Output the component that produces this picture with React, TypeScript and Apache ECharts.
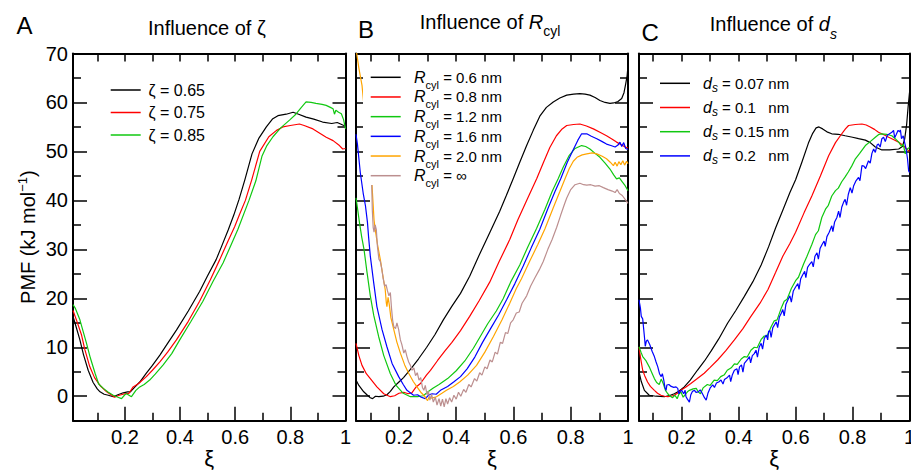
import React, { useEffect, useRef } from "react";
import * as echarts from "echarts";

const FONT = '"Liberation Sans", Arial, Helvetica, sans-serif';

// ---- axis tick values ----
const X_MAJOR = [0.2, 0.4, 0.6, 0.8, 1];
const X_MINOR = [0.1, 0.3, 0.5, 0.7, 0.9];
const X_TOP = [0.1, 0.2, 0.3, 0.4, 0.5, 0.6, 0.7, 0.8, 0.9];
const Y_MAJOR = [0, 10, 20, 30, 40, 50, 60, 70];
const Y_MINOR = [5, 15, 25, 35, 45, 55, 65];
const X_MIN = [0.012, 0.05, 0.05];
const X_MAX = 1;
const Y_MIN = -5;
const Y_MAX = 70;

// ---- legend names ----
const ZETA_NAMES = ["ζ = 0.65", "ζ = 0.75", "ζ = 0.85"];
const RCYL_VALUES = ["0.6 nm", "0.8 nm", "1.2 nm", "1.6 nm", "2.0 nm", "∞"];
const DS_VALUES = ["0.07 nm", "0.1\u00a0\u00a0\u00a0nm", "0.15 nm", "0.2\u00a0\u00a0\u00a0nm"];

// ---- Panel A: influence of zeta ----
const A_ZETA065 = [[0.012,16.3],[0.02,14.8],[0.037,11.5],[0.05,8.5],[0.067,5.3],[0.085,2.8],[0.1,1.5],[0.11,0.9],[0.125,0.4],[0.14,0.2],[0.158,-0.1],[0.175,0.3],[0.194,0.7],[0.21,0.9],[0.22,0.9],[0.235,1.8],[0.254,2.9],[0.278,4.7],[0.3,6.3],[0.327,8.4],[0.355,10.8],[0.387,13.5],[0.43,17.4],[0.471,21.4],[0.5,24.6],[0.531,27.9],[0.55,30.5],[0.575,34.0],[0.595,37.0],[0.614,40.2],[0.635,44.2],[0.661,49.5],[0.685,52.6],[0.713,55.0],[0.735,56.6],[0.755,57.3],[0.785,57.6],[0.81,58.0],[0.83,57.6],[0.857,57.0],[0.885,56.6],[0.917,56.0],[0.95,55.7],[0.97,55.9],[0.99,55.4],[1.0,55.2]];
const A_ZETA075 = [[0.012,17.5],[0.025,15.5],[0.043,12.5],[0.055,9.5],[0.073,6.0],[0.09,3.8],[0.11,2.2],[0.134,0.9],[0.15,0.3],[0.163,-0.2],[0.18,0.2],[0.2,0.5],[0.215,0.6],[0.23,1.9],[0.25,2.6],[0.278,4.0],[0.3,5.3],[0.327,7.0],[0.355,9.0],[0.387,11.5],[0.43,15.3],[0.471,19.4],[0.51,23.8],[0.544,27.9],[0.575,31.8],[0.598,34.6],[0.615,37.0],[0.637,40.0],[0.66,44.2],[0.689,50.0],[0.722,53.0],[0.75,54.3],[0.773,55.0],[0.8,55.3],[0.833,55.6],[0.85,55.3],[0.882,54.6],[0.93,52.9],[0.955,52.2],[0.978,51.2],[0.99,50.5],[1.0,50.6]];
const A_ZETA085 = [[0.012,18.7],[0.02,18.0],[0.037,15.6],[0.05,13.0],[0.061,10.8],[0.075,7.8],[0.092,4.7],[0.105,2.5],[0.122,1.6],[0.14,0.8],[0.158,0.2],[0.175,-0.2],[0.188,-0.5],[0.2,0.3],[0.206,0.5],[0.215,0.2],[0.224,-0.1],[0.24,1.2],[0.254,1.9],[0.27,2.4],[0.29,3.3],[0.31,4.5],[0.339,6.4],[0.37,8.7],[0.399,11.5],[0.44,15.3],[0.483,19.4],[0.52,23.5],[0.556,27.2],[0.585,30.9],[0.61,34.1],[0.65,40.0],[0.675,44.0],[0.697,49.0],[0.715,51.2],[0.737,53.0],[0.765,54.8],[0.797,56.4],[0.82,57.6],[0.84,59.0],[0.857,60.1],[0.875,60.0],[0.893,59.8],[0.915,59.6],[0.93,59.4],[0.945,59.0],[0.955,58.7],[0.96,57.6],[0.965,58.4],[0.975,58.0],[0.985,57.7],[0.993,56.5],[1.0,54.6]];

// ---- Panel B: influence of R_cyl ----
const B_R06 = [[0.05,3.3],[0.06,2.2],[0.077,0.9],[0.09,0.2],[0.1,-0.3],[0.108,-0.5],[0.118,0.0],[0.13,-0.1],[0.145,0.0],[0.158,0.3],[0.17,1.0],[0.182,1.9],[0.2,2.9],[0.216,3.8],[0.24,5.5],[0.268,7.6],[0.297,10.0],[0.326,12.6],[0.355,15.6],[0.384,18.3],[0.415,21.0],[0.447,24.5],[0.48,28.8],[0.517,33.4],[0.552,37.8],[0.575,41.0],[0.599,44.4],[0.622,47.8],[0.646,51.2],[0.669,54.3],[0.692,57.2],[0.715,59.0],[0.739,60.1],[0.762,60.9],[0.786,61.5],[0.81,61.7],[0.832,61.8],[0.85,61.7],[0.867,61.5],[0.885,61.0],[0.902,60.4],[0.92,60.0],[0.937,59.8],[0.95,59.9],[0.965,60.2],[0.978,60.8],[0.986,62.0],[0.992,63.8],[0.997,65.5],[1.0,67.5]];
const B_R08 = [[0.05,10.8],[0.06,8.3],[0.071,6.3],[0.086,4.6],[0.1,3.6],[0.123,1.9],[0.147,0.5],[0.17,-0.1],[0.185,0.1],[0.2,0.6],[0.217,0.8],[0.232,0.5],[0.245,0.7],[0.26,1.9],[0.275,2.6],[0.296,4.3],[0.31,5.3],[0.335,7.3],[0.36,9.2],[0.385,11.0],[0.415,13.4],[0.447,16.3],[0.48,19.5],[0.517,23.3],[0.55,27.5],[0.587,32.0],[0.615,36.0],[0.646,40.0],[0.681,44.4],[0.705,47.8],[0.727,50.8],[0.75,53.2],[0.77,54.6],[0.786,55.3],[0.81,55.5],[0.832,55.6],[0.855,55.2],[0.879,54.6],[0.902,53.9],[0.925,53.2],[0.945,52.5],[0.96,51.9],[0.975,51.4],[0.99,50.9],[1.0,50.7]];
const B_R12 = [[0.05,40.5],[0.055,38.5],[0.062,35.5],[0.07,32.5],[0.078,30.0],[0.088,25.5],[0.1,20.5],[0.112,16.5],[0.129,12.2],[0.147,8.3],[0.17,4.6],[0.19,2.2],[0.215,0.6],[0.24,-0.1],[0.265,-0.1],[0.285,0.1],[0.304,1.0],[0.32,1.7],[0.34,2.4],[0.37,3.6],[0.4,5.2],[0.43,7.2],[0.46,9.8],[0.482,12.0],[0.51,14.8],[0.54,17.4],[0.564,19.9],[0.59,23.3],[0.622,26.8],[0.65,30.5],[0.681,34.3],[0.71,38.2],[0.735,41.8],[0.756,44.4],[0.774,46.8],[0.795,49.2],[0.815,50.6],[0.838,51.2],[0.852,51.0],[0.867,50.5],[0.885,49.6],[0.902,48.8],[0.92,47.6],[0.937,46.4],[0.95,45.2],[0.96,44.4],[0.97,44.6],[0.98,43.8],[0.99,43.0],[1.0,42.0]];
const B_R16 = [[0.05,53.5],[0.055,51.5],[0.065,45.7],[0.075,41.5],[0.083,38.9],[0.09,35.5],[0.094,32.5],[0.1,28.6],[0.112,23.1],[0.123,18.3],[0.141,13.6],[0.158,10.1],[0.176,6.7],[0.199,4.0],[0.215,2.4],[0.228,1.2],[0.251,0.2],[0.265,0.3],[0.278,-0.2],[0.292,-0.5],[0.305,0.3],[0.316,0.5],[0.33,0.4],[0.345,1.2],[0.37,2.0],[0.391,2.9],[0.415,4.0],[0.438,5.6],[0.465,8.0],[0.492,11.0],[0.52,13.8],[0.548,16.6],[0.576,19.7],[0.605,23.0],[0.634,26.6],[0.662,30.3],[0.692,34.1],[0.72,38.3],[0.745,41.8],[0.765,44.4],[0.788,47.8],[0.81,50.5],[0.825,52.3],[0.838,53.6],[0.856,53.6],[0.872,53.1],[0.891,52.6],[0.91,52.0],[0.925,51.5],[0.94,51.2],[0.955,50.9],[0.965,51.3],[0.972,51.9],[0.978,51.0],[0.985,51.8],[0.992,50.6],[1.0,50.4]];
const B_R20 = [[0.05,71.0],[0.06,67.0],[0.071,63.5],[0.08,58.0],[0.09,52.0],[0.1,46.0],[0.106,43.0],[0.109,40.0],[0.113,36.0],[0.117,34.1],[0.125,31.0],[0.135,27.9],[0.145,24.2],[0.152,21.8],[0.156,19.0],[0.158,18.3],[0.162,20.2],[0.166,18.8],[0.172,16.0],[0.182,13.6],[0.193,11.0],[0.205,8.8],[0.22,6.4],[0.234,4.7],[0.25,3.0],[0.263,1.9],[0.278,0.7],[0.29,0.0],[0.296,-0.6],[0.3,-0.9],[0.305,-0.2],[0.315,-0.4],[0.331,-0.1],[0.35,0.6],[0.366,1.2],[0.39,2.0],[0.412,2.9],[0.44,4.3],[0.471,6.3],[0.5,9.0],[0.53,12.2],[0.56,15.6],[0.587,19.0],[0.61,22.0],[0.628,24.0],[0.657,27.6],[0.685,31.0],[0.71,34.2],[0.739,38.5],[0.762,41.8],[0.78,44.4],[0.795,46.5],[0.809,48.0],[0.822,48.8],[0.84,49.3],[0.856,49.5],[0.875,49.7],[0.891,49.5],[0.91,49.0],[0.925,48.5],[0.938,47.8],[0.949,47.1],[0.955,47.8],[0.962,47.0],[0.968,47.9],[0.975,47.3],[0.982,48.1],[0.988,47.2],[0.995,48.0],[1.0,47.5]];
const B_RINF = [[0.085,65.0],[0.095,52.0],[0.105,43.0],[0.107,38.0],[0.11,34.5],[0.113,33.5],[0.117,35.0],[0.121,34.0],[0.125,30.5],[0.13,28.0],[0.135,27.5],[0.14,26.0],[0.145,24.0],[0.15,22.5],[0.155,22.8],[0.16,21.5],[0.165,20.5],[0.17,21.2],[0.174,18.0],[0.178,15.5],[0.182,14.2],[0.188,13.8],[0.193,15.0],[0.199,13.6],[0.205,11.5],[0.21,10.6],[0.217,8.8],[0.222,9.5],[0.228,8.1],[0.234,7.0],[0.24,6.3],[0.246,5.3],[0.252,5.8],[0.258,4.2],[0.264,4.8],[0.27,3.3],[0.276,3.8],[0.282,1.8],[0.287,1.2],[0.292,2.2],[0.298,0.3],[0.303,1.0],[0.308,-0.8],[0.314,0.4],[0.32,-1.2],[0.327,-0.2],[0.333,-1.8],[0.34,-0.5],[0.346,-2.0],[0.352,-0.6],[0.358,-2.2],[0.364,-0.5],[0.37,-1.6],[0.377,-0.3],[0.384,-1.2],[0.392,0.2],[0.4,-0.6],[0.408,0.8],[0.416,0.0],[0.426,1.4],[0.434,0.8],[0.444,2.4],[0.452,1.9],[0.464,3.6],[0.472,3.1],[0.482,4.8],[0.49,4.3],[0.5,6.0],[0.508,5.6],[0.518,7.4],[0.526,7.0],[0.536,9.0],[0.544,8.6],[0.554,11.0],[0.562,10.8],[0.572,13.0],[0.58,12.8],[0.59,15.0],[0.599,15.6],[0.61,17.0],[0.62,17.2],[0.63,19.0],[0.646,20.5],[0.66,22.5],[0.675,24.2],[0.69,25.8],[0.704,27.5],[0.72,30.0],[0.735,32.0],[0.751,34.5],[0.765,37.0],[0.778,39.2],[0.786,40.5],[0.8,42.2],[0.815,43.2],[0.832,43.5],[0.845,43.2],[0.856,43.1],[0.87,43.2],[0.885,42.9],[0.9,43.0],[0.914,42.6],[0.93,42.2],[0.945,41.9],[0.955,41.6],[0.962,42.2],[0.97,41.4],[0.98,41.0],[0.99,40.2],[1.0,39.4]];

// ---- Panel C: influence of d_s ----
const C_D007 = [[0.05,5.0],[0.058,3.0],[0.069,1.2],[0.086,0.2],[0.11,0.0],[0.139,-0.1],[0.16,0.2],[0.174,0.5],[0.19,1.0],[0.209,1.9],[0.23,3.3],[0.255,5.3],[0.28,7.2],[0.303,9.2],[0.33,11.7],[0.361,14.9],[0.39,17.5],[0.42,20.4],[0.45,23.4],[0.479,26.8],[0.505,30.5],[0.53,34.4],[0.555,38.0],[0.58,41.6],[0.6,44.2],[0.622,47.8],[0.645,51.7],[0.66,53.7],[0.672,54.8],[0.682,55.0],[0.695,54.6],[0.71,54.0],[0.727,53.6],[0.75,53.5],[0.774,53.2],[0.8,52.9],[0.821,52.6],[0.845,52.3],[0.862,51.8],[0.88,50.9],[0.903,50.3],[0.93,50.3],[0.962,50.5],[0.975,51.0],[0.983,52.5],[0.99,55.5],[0.995,59.0],[1.0,62.0]];
const C_D010 = [[0.05,10.0],[0.055,8.0],[0.063,5.3],[0.07,4.2],[0.08,2.9],[0.09,2.0],[0.104,1.2],[0.115,0.6],[0.127,0.2],[0.14,0.0],[0.151,-0.1],[0.163,0.0],[0.174,0.2],[0.185,0.6],[0.197,1.2],[0.215,1.9],[0.232,2.6],[0.255,3.6],[0.279,4.7],[0.3,5.9],[0.326,7.4],[0.355,9.3],[0.385,11.5],[0.415,13.8],[0.443,16.3],[0.475,19.0],[0.503,21.8],[0.53,25.3],[0.555,28.6],[0.58,31.2],[0.6,33.5],[0.63,37.5],[0.657,40.9],[0.687,45.0],[0.716,49.1],[0.74,51.8],[0.757,53.2],[0.775,54.6],[0.786,55.3],[0.81,55.5],[0.833,55.6],[0.848,55.4],[0.862,55.0],[0.877,54.5],[0.891,53.9],[0.91,53.4],[0.927,52.9],[0.945,52.4],[0.962,51.9],[0.978,51.2],[0.99,50.5],[1.0,50.0]];
const C_D015 = [[0.05,10.1],[0.057,9.0],[0.063,8.1],[0.075,7.2],[0.086,6.0],[0.095,4.8],[0.104,3.6],[0.112,2.8],[0.121,2.4],[0.128,3.5],[0.135,2.6],[0.143,1.2],[0.151,0.5],[0.16,0.0],[0.168,-0.3],[0.176,0.2],[0.184,-0.5],[0.19,0.4],[0.197,0.9],[0.205,-0.2],[0.212,0.3],[0.22,0.9],[0.227,1.2],[0.24,1.5],[0.251,1.6],[0.258,0.9],[0.266,0.5],[0.275,1.7],[0.29,2.4],[0.3,2.2],[0.314,3.3],[0.325,3.2],[0.337,4.0],[0.35,4.4],[0.36,5.3],[0.374,5.8],[0.385,6.6],[0.395,6.5],[0.409,7.6],[0.42,8.1],[0.43,8.0],[0.443,9.4],[0.455,10.0],[0.465,9.9],[0.479,11.6],[0.49,12.3],[0.5,12.3],[0.514,14.2],[0.525,15.4],[0.535,15.6],[0.549,17.9],[0.56,19.4],[0.57,19.8],[0.585,22.0],[0.6,23.6],[0.61,24.3],[0.628,27.0],[0.64,28.6],[0.657,31.0],[0.67,33.0],[0.68,33.8],[0.692,36.5],[0.705,38.2],[0.715,39.0],[0.727,40.9],[0.74,42.0],[0.75,42.5],[0.762,43.8],[0.774,44.8],[0.785,45.8],[0.797,47.0],[0.81,48.5],[0.825,49.6],[0.845,51.2],[0.862,52.0],[0.88,52.9],[0.893,53.5],[0.903,53.6],[0.92,53.5],[0.938,53.2],[0.95,52.6],[0.962,51.9],[0.972,51.0],[0.978,51.5],[0.985,49.5],[0.992,50.5],[1.0,50.8]];
const C_D020 = [[0.05,19.7],[0.055,18.0],[0.058,16.3],[0.063,15.8],[0.069,12.2],[0.072,10.2],[0.076,11.3],[0.08,11.5],[0.088,10.5],[0.096,9.2],[0.104,8.1],[0.11,7.0],[0.116,6.0],[0.122,4.6],[0.128,4.0],[0.132,4.6],[0.137,3.3],[0.141,1.8],[0.145,1.2],[0.148,2.3],[0.155,2.4],[0.163,2.0],[0.172,1.8],[0.18,1.9],[0.186,1.6],[0.19,0.5],[0.195,1.0],[0.2,1.2],[0.207,0.5],[0.212,1.2],[0.215,-0.1],[0.22,-0.6],[0.227,-1.2],[0.232,0.3],[0.238,1.0],[0.245,1.2],[0.25,0.8],[0.258,0.9],[0.265,1.3],[0.272,0.6],[0.28,-0.3],[0.286,-0.8],[0.292,0.6],[0.3,1.7],[0.309,2.3],[0.315,1.8],[0.322,2.7],[0.33,2.9],[0.338,3.3],[0.345,2.5],[0.35,3.4],[0.358,3.7],[0.368,4.3],[0.372,3.0],[0.378,4.4],[0.385,5.3],[0.394,5.6],[0.398,4.4],[0.403,6.0],[0.41,6.4],[0.415,4.9],[0.42,6.7],[0.43,7.4],[0.438,8.1],[0.442,6.8],[0.448,8.3],[0.455,8.7],[0.461,9.4],[0.466,8.0],[0.472,10.0],[0.479,10.8],[0.484,9.6],[0.49,11.8],[0.497,12.5],[0.502,11.5],[0.505,13.2],[0.51,13.4],[0.514,12.0],[0.52,14.0],[0.526,14.6],[0.532,15.2],[0.537,14.0],[0.543,16.2],[0.55,17.0],[0.555,17.7],[0.56,16.4],[0.566,18.8],[0.574,19.8],[0.58,20.5],[0.585,19.2],[0.592,21.5],[0.6,22.3],[0.608,23.0],[0.612,21.8],[0.618,24.0],[0.625,24.8],[0.632,25.5],[0.636,24.2],[0.642,26.3],[0.65,27.0],[0.657,27.5],[0.662,26.4],[0.668,28.6],[0.675,29.3],[0.68,28.0],[0.686,30.2],[0.693,31.0],[0.7,31.7],[0.704,30.6],[0.71,32.6],[0.718,33.5],[0.727,34.8],[0.731,33.6],[0.737,35.6],[0.745,36.5],[0.751,37.8],[0.756,36.5],[0.762,38.6],[0.769,39.7],[0.774,40.2],[0.779,39.0],[0.785,41.2],[0.792,42.6],[0.798,41.5],[0.804,43.0],[0.812,44.0],[0.821,44.7],[0.826,44.0],[0.833,47.1],[0.84,47.0],[0.846,46.5],[0.856,48.1],[0.862,47.6],[0.868,49.6],[0.874,50.5],[0.88,49.8],[0.886,51.3],[0.891,51.5],[0.897,50.9],[0.903,52.6],[0.909,52.9],[0.915,52.0],[0.922,53.3],[0.93,53.6],[0.938,53.9],[0.944,54.3],[0.948,52.8],[0.953,53.4],[0.96,54.3],[0.965,54.0],[0.968,54.4],[0.972,52.6],[0.978,53.2],[0.983,51.8],[0.988,50.5],[0.993,48.5],[0.997,46.0],[1.0,45.7]];

const COLORS_A = ["#000000", "#ff0000", "#10c810"];
const COLORS_B = ["#000000", "#ff0000", "#10c810", "#0000ff", "#ffa500", "#bc8f8f"];
const COLORS_C = ["#000000", "#ff0000", "#10c810", "#0000ff"];

const DATA_A = [A_ZETA065, A_ZETA075, A_ZETA085];
const DATA_B = [B_R06, B_R08, B_R12, B_R16, B_R20, B_RINF];
const DATA_C = [C_D007, C_D010, C_D015, C_D020];

const NAMES_B = RCYL_VALUES.map((v) => "Rcyl = " + v);
const NAMES_C = DS_VALUES.map((v) => "ds = " + v);

// layout (pixels)
const GRIDS = [
  { left: 73, top: 53.5, width: 272.5, height: 367.2 },
  { left: 356, top: 53.5, width: 272, height: 367.2 },
  { left: 639, top: 53.5, width: 270.5, height: 367.2 },
];
// legend layout: line start x, text x, first row y, row step
const LEGEND_LAYOUT = [
  { x: 110.7, tx: 148.5, y: 90, step: 22.5 },
  { x: 370.7, tx: 414, y: 77.3, step: 19.68 },
  { x: 660, tx: 703, y: 83.3, step: 24.2 },
];

function buildOption() {
  const black = "#000";
  const xAxes: any[] = [];
  const yAxes: any[] = [];
  GRIDS.forEach((_, g) => {
    const base = {
      type: "value",
      gridIndex: g,
      min: X_MIN[g],
      max: X_MAX,
      splitLine: { show: false },
    };
    xAxes.push({
      ...base,
      position: "bottom",
      axisLine: { show: true, onZero: false, lineStyle: { color: black, width: 2 } },
      axisTick: { show: true, inside: true, length: 14, customValues: X_MAJOR, lineStyle: { color: black, width: 1.5 } },
      axisLabel: {
        show: true,
        customValues: X_MAJOR,
        margin: 6,
        color: black,
        fontSize: 20,
        fontFamily: FONT,
        formatter: (v: number) => (Math.abs(v - 1) < 1e-9 ? "1" : v.toFixed(1)),
      },
      name: "ξ",
      nameLocation: "middle",
      nameGap: 26,
      nameMoveOverlap: false,
      nameTextStyle: { color: black, fontSize: 22, fontFamily: FONT, lineHeight: 24 },
    });
    xAxes.push({
      ...base,
      position: "bottom",
      axisLine: { show: false, onZero: false },
      axisTick: { show: true, inside: true, length: 8, customValues: X_MINOR, lineStyle: { color: black, width: 1.5 } },
      axisLabel: { show: false },
    });
    xAxes.push({
      ...base,
      position: "top",
      axisLine: { show: true, onZero: false, lineStyle: { color: black, width: 2 } },
      axisTick: { show: true, inside: true, length: 8, customValues: X_TOP, lineStyle: { color: black, width: 1.5 } },
      axisLabel: { show: false },
    });

    const ybase = { type: "value", gridIndex: g, min: Y_MIN, max: Y_MAX, splitLine: { show: false } };
    const leftMajor: any = {
      ...ybase,
      position: "left",
      axisLine: { show: true, onZero: false, lineStyle: { color: black, width: 2 } },
      axisTick: { show: true, inside: true, length: 14, customValues: Y_MAJOR, lineStyle: { color: black, width: 1.5 } },
      axisLabel: g === 0
        ? { show: true, customValues: Y_MAJOR, margin: 5, color: black, fontSize: 20, fontFamily: FONT }
        : { show: false },
    };
    if (g === 0) {
      leftMajor.name = "{n|PMF (kJ mol}{sup|−1}{n|)}";
      leftMajor.nameLocation = "middle";
      leftMajor.nameGap = 34;
      leftMajor.nameRotate = 90;
      leftMajor.nameTextStyle = {
        color: black,
        fontSize: 20,
        fontFamily: FONT,
        rich: {
          n: { fontSize: 20, lineHeight: 22, fontFamily: FONT, color: black },
          sup: { fontSize: 13, lineHeight: 22, fontFamily: FONT, color: black, padding: [0, 0, 11, 0] },
        },
      };
    }
    yAxes.push(leftMajor);
    yAxes.push({
      ...ybase,
      position: "left",
      axisLine: { show: false, onZero: false },
      axisTick: { show: true, inside: true, length: 8, customValues: Y_MINOR, lineStyle: { color: black, width: 1.5 } },
      axisLabel: { show: false },
    });
    yAxes.push({
      ...ybase,
      position: "right",
      axisLine: { show: true, onZero: false, lineStyle: { color: black, width: 2 } },
      axisTick: { show: true, inside: true, length: 13, customValues: Y_MAJOR, lineStyle: { color: black, width: 1.5 } },
      axisLabel: { show: false },
    });
    yAxes.push({
      ...ybase,
      position: "right",
      axisLine: { show: false, onZero: false },
      axisTick: { show: true, inside: true, length: 8, customValues: Y_MINOR, lineStyle: { color: black, width: 1.5 } },
      axisLabel: { show: false },
    });
  });

  const series: any[] = [];
  const addSeries = (names: string[], datas: number[][][], colors: string[], g: number) => {
    names.forEach((name, i) => {
      series.push({
        type: "line",
        name,
        data: datas[i],
        xAxisIndex: 3 * g,
        yAxisIndex: 4 * g,
        symbol: "none",
        showSymbol: false,
        clip: true,
        silent: true,
        lineStyle: { color: colors[i], width: 1.2 },
        itemStyle: { color: colors[i] },
      });
    });
  };
  addSeries(ZETA_NAMES, DATA_A, COLORS_A, 0);
  addSeries(NAMES_B, DATA_B, COLORS_B, 1);
  addSeries(NAMES_C, DATA_C, COLORS_C, 2);

  // ---- legends (drawn as graphic elements above the series) ----
  const rt = (extra: any) => ({ fontFamily: FONT, fill: black, ...extra });
  const legendEls: any[] = [];
  // white box behind legend B (hides the curves that run under it)
  legendEls.push({
    type: "rect",
    z: 50,
    silent: true,
    shape: { x: 363, y: 62, width: 145, height: 123 },
    style: { fill: "#ffffff" },
  });
  const legendRows = (
    g: number,
    colors: string[],
    texts: string[],
    rich: any,
    fontSize: number
  ) => {
    const L = LEGEND_LAYOUT[g];
    texts.forEach((t, i) => {
      const y = L.y + i * L.step;
      legendEls.push({
        type: "line",
        z: 51,
        silent: true,
        shape: { x1: L.x, y1: y, x2: L.x + 30, y2: y },
        style: { stroke: colors[i], lineWidth: 1.5 },
      });
      legendEls.push({
        type: "text",
        z: 51,
        silent: true,
        x: L.tx,
        y,
        style: {
          text: t,
          rich,
          fill: black,
          font: `${fontSize}px ${FONT}`,
          align: "left",
          verticalAlign: "middle",
        },
      });
    });
  };
  legendRows(
    0,
    COLORS_A,
    ZETA_NAMES.map((n) => `{n|${n}}`),
    { n: rt({ fontSize: 16, lineHeight: 16 }) },
    16
  );
  legendRows(
    1,
    COLORS_B,
    RCYL_VALUES.map((v) => `{i|R}{s|cyl}{n|\u00a0=\u00a0${v}}`),
    {
      i: rt({ fontSize: 16, fontStyle: "italic", lineHeight: 16 }),
      s: rt({ fontSize: 11, lineHeight: 16, padding: [15, 0, 0, 0] }),
      n: rt({ fontSize: 15, lineHeight: 16 }),
    },
    15
  );
  legendRows(
    2,
    COLORS_C,
    DS_VALUES.map((v) => `{i|d}{s|s}{n|\u00a0=\u00a0${v}}`),
    {
      i: rt({ fontSize: 16, fontStyle: "italic", lineHeight: 16 }),
      s: rt({ fontSize: 12, fontStyle: "italic", lineHeight: 16, padding: [9, 0, 0, 0] }),
      n: rt({ fontSize: 15, lineHeight: 16 }),
    },
    15
  );

  const letter = (t: string, x: number, y: number) => ({
    type: "text",
    x,
    y,
    silent: true,
    style: { text: t, fill: black, font: `24px ${FONT}`, align: "left", verticalAlign: "middle" },
  });
  const title = (text: string, x: number, y: number, rich: any) => ({
    type: "text",
    x,
    y,
    silent: true,
    style: { text, rich, fill: black, font: `20px ${FONT}`, align: "left", verticalAlign: "middle" },
  });

  const graphic = [
    letter("A", 16.5, 25.3),
    letter("B", 358, 29),
    letter("C", 641.5, 32),
    title("{n|Influence of\u00a0}{z|ζ}", 148, 27.8, {
      n: rt({ fontSize: 20, lineHeight: 20 }),
      z: rt({ fontSize: 20, lineHeight: 20 }),
    }),
    title("{n|Influence of\u00a0}{i|R}{s|cyl}", 419.8, 21.7, {
      n: rt({ fontSize: 20, lineHeight: 20 }),
      i: rt({ fontSize: 20, fontStyle: "italic", lineHeight: 20 }),
      s: rt({ fontSize: 14, lineHeight: 20, padding: [19, 0, 0, 0] }),
    }),
    title("{n|Influence of\u00a0}{i|d}{s|s}", 709.8, 24.2, {
      n: rt({ fontSize: 20, lineHeight: 20 }),
      i: rt({ fontSize: 20, fontStyle: "italic", lineHeight: 20 }),
      s: rt({ fontSize: 14, fontStyle: "italic", lineHeight: 20, padding: [20, 0, 0, 0] }),
    }),
    ...legendEls,
  ];

  return {
    animation: false,
    backgroundColor: "#ffffff",
    textStyle: { fontFamily: FONT },
    grid: GRIDS.map((g) => ({ ...g, containLabel: false, outerBoundsMode: "none", show: false })),
    xAxis: xAxes,
    yAxis: yAxes,
    series,
    graphic,
  };
}

export default function App() {
  const ref = useRef<HTMLDivElement>(null);
  useEffect(() => {
    if (!ref.current) return;
    const chart = echarts.init(ref.current, undefined, { renderer: "svg" });
    chart.setOption(buildOption() as any);
    return () => chart.dispose();
  }, []);
  return (
    <div
      ref={ref}
      style={{ position: "fixed", left: 0, top: 0, width: 911, height: 473, background: "#fff" }}
    />
  );
}
